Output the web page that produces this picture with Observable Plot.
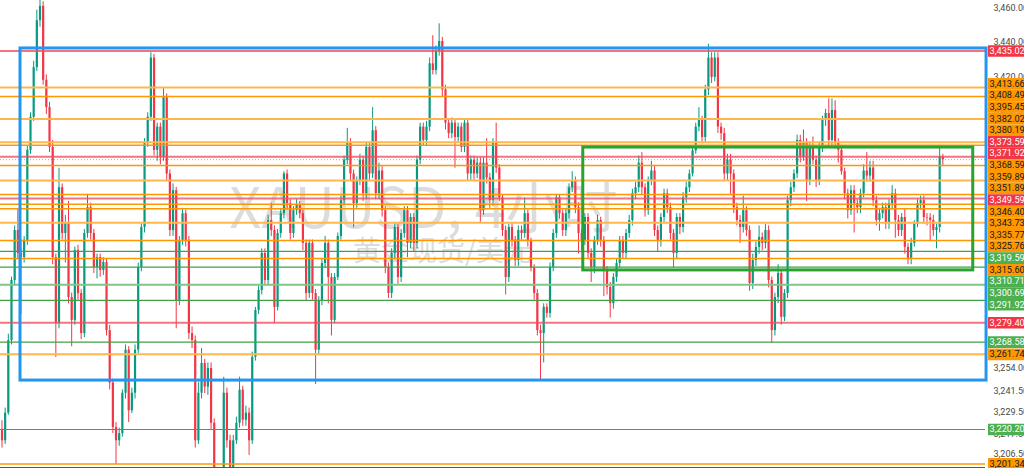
<!DOCTYPE html>
<html><head><meta charset="utf-8">
<script src="https://cdn.jsdelivr.net/npm/d3@7"></script>
<script src="https://cdn.jsdelivr.net/npm/@observablehq/plot@0.6"></script>
<style>
html,body{margin:0;padding:0;background:#fff;overflow:hidden;}
#chart{width:1024px;height:468px;overflow:hidden;}
</style></head><body><div id="chart"></div>
<script>
// ---- data (XAUUSD 4h candles) ----
const firstOpen = 3219.6;
const close = [
3214.0,3229.2,3269.4,3303.1,3331.4,3318.4,3316.1,
3325.8,3377.3,3396.4,3425.3,3452.8,3461.3,3417.9,3402.0,3379.0,3316.1,
3279.0,3355.8,3329.7,3335.4,3293.5,3280.7,3320.1,3295.8,3273.3,3329.7,
3344.4,3329.7,3310.5,3316.1,3308.8,3313.3,3275.0,3245.8,3221.3,3214.0,
3217.9,3240.2,3264.1,3230.5,3240.2,3264.1,3310.5,3333.1,3381.3,3396.4,
3430.9,3377.3,3390.7,3373.3,3407.7,3363.7,3331.4,3354.1,3291.8,3325.8,
3341.0,3325.8,3273.3,3269.4,3214.0,3240.2,3256.7,3243.6,3253.9,3223.6,
3194.4,3186.0,3197.3,3240.2,3214.0,3199.0,3214.0,3223.6,3241.9,
3225.3,3229.2,3214.0,3260.1,3286.3,3297.5,3318.4,3303.1,3337.1,3331.4,
3288.0,3329.7,3341.0,3363.7,3346.7,3329.7,3342.7,3345.6,3341.0,3324.1,
3295.8,3324.1,3295.8,3264.1,3291.8,3312.7,3324.1,3304.8,
3280.7,3304.8,3328.0,3348.4,3371.6,3381.3,3363.7,3346.7,3359.7,3371.6,3352.4,
3379.0,3363.7,3388.6,3352.4,3365.4,3342.7,3310.5,3295.8,3318.4,3333.1,
3304.8,3329.7,3342.7,3324.1,3338.8,3324.1,3371.6,3390.7,3383.0,3390.7,
3427.5,3423.6,3434.9,3440.6,3412.3,3393.0,3386.9,3393.0,3384.7,3390.7,
3379.0,3393.0,3363.7,3371.6,3363.7,3369.9,3342.7,3369.9,3361.4,3348.4,
3381.3,3367.1,3350.0,3331.4,3304.8,3333.1,3325.8,3314.4,3331.4,3329.7,3341.0,
3325.8,3310.0,3295.8,3275.0,3273.3,3288.0,3284.6,3310.5,3329.7,3350.1,3341.0,
3331.4,3341.0,3355.8,3359.7,3344.4,3329.7,3325.8,3338.8,3318.4,3310.5,
3325.8,3337.1,3325.8,3308.8,3299.2,3290.1,3304.8,3312.7,3325.8,3318.4,
3329.7,3337.1,3352.4,3355.8,3369.9,3355.8,3342.7,3359.7,3365.4,3331.4,
3325.8,3338.8,3352.4,3344.4,3329.7,3318.4,3338.8,3333.1,3350.1,3355.8,
3363.7,3377.0,3390.7,3394.7,3384.7,3412.3,3430.9,3419.6,3430.9,3390.7,3386.9,
3363.7,3371.6,3363.7,3344.4,3337.1,3333.1,3342.7,3331.4,3301.4,3314.4,
3321.8,3327.5,3324.1,3331.4,3303.1,3275.0,3293.5,3307.1,3282.4,3295.8,
3348.4,3355.8,3363.7,3383.0,3373.3,3381.3,3359.7,3379.0,3371.6,3359.7,
3379.0,3394.7,3398.6,3383.0,3400.3,3381.3,3377.3,3365.0,3352.4,3342.7,3354.1,
3346.7,3344.4,3352.4,3365.4,3362.5,3367.1,3348.4,3337.1,3341.0,3344.4,
3335.4,3346.7,3352.4,3337.1,3331.4,3338.8,3321.8,3315.6,3324.1,3335.0,3346.7,
3348.4,3338.8,3338.6,3337.1,3331.4,3333.1,3373.6,3371.9
];
const high = [
3225,3232,3273,3305,3334,3344,3326,
3328,3380,3399,3429,3459,3470,3464,3421,3405,3383,
3318,3367,3358,3340,3348,3296,3322,3323,3298,3332,
3352,3347,3332,3318,3318,3316,3315,3278,3248,3224,
3221,3242,3267,3266,3243,3267,3313,3335,3384,3399,
3434,3433,3393,3393,3413,3410,3366,3358,3356,3328,
3344,3343,3328,3277,3272,3246,3265,3259,3257,3257,
3226,3197,3199,3249,3243,3217,3217,3227,3249,
3244,3233,3232,3263,3288,3300,3321,3321,3340,3347,
3334,3332,3344,3365,3366,3349,3345,3349,3348,3343,
3326,3326,3326,3298,3294,3315,3328,3326,
3307,3307,3330,3351,3374,3390,3384,3366,3362,3375,3374,
3382,3382,3402,3391,3370,3368,3345,3313,3321,3336,
3335,3332,3345,3345,3341,3341,3374,3393,3393,3394,
3431,3444,3438,3451,3443,3415,3395,3396,3395,3393,
3393,3395,3395,3374,3374,3373,3373,3373,3384,3364,
3384,3393,3369,3352,3334,3335,3336,3328,3334,3334,3350,
3343,3327,3312,3298,3278,3290,3290,3313,3332,3352,3352,
3343,3344,3358,3365,3362,3347,3332,3341,3341,3321,
3328,3340,3339,3328,3311,3302,3307,3315,3328,3328,
3332,3340,3355,3359,3374,3376,3358,3362,3371,3368,
3334,3341,3355,3355,3347,3332,3341,3341,3353,3359,
3366,3379,3393,3402,3397,3415,3439,3434,3434,3434,3393,
3390,3375,3375,3366,3347,3340,3351,3345,3334,3318,
3325,3334,3330,3335,3334,3305,3296,3312,3309,3298,
3351,3359,3366,3386,3386,3389,3384,3382,3385,3374,
3382,3397,3401,3407,3407,3406,3384,3379,3367,3355,3357,
3357,3349,3355,3369,3376,3371,3371,3351,3344,3347,
3347,3349,3357,3355,3340,3341,3344,3324,3327,3337,3349,
3351,3351,3341,3341,3340,3335,3379,3375
];
const low = [
3210,3212,3228,3267,3300,3315,3284,
3313,3323,3375,3394,3423,3449,3415,3398,3376,3312,
3260,3276,3326,3313,3290,3266,3278,3292,3270,3271,
3327,3326,3307,3304,3305,3306,3272,3242,3218,3201,
3211,3216,3237,3224,3229,3237,3262,3308,3330,3379,
3394,3374,3371,3369,3371,3360,3328,3328,3276,3289,
3323,3322,3270,3265,3210,3212,3237,3240,3239,3220,
3190,3180,3185,3195,3210,3195,3197,3212,3221,
3222,3222,3206,3212,3258,3284,3295,3300,3300,3328,
3279,3286,3327,3338,3343,3326,3327,3340,3338,3320,
3292,3293,3292,3245,3261,3289,3310,3290,
3272,3279,3303,3326,3346,3369,3360,3333,3344,3357,3348,
3349,3360,3361,3349,3349,3339,3307,3293,3293,3315,
3301,3302,3327,3316,3321,3319,3321,3369,3380,3380,
3388,3421,3421,3432,3408,3389,3384,3384,3367,3382,
3376,3376,3360,3360,3360,3361,3336,3340,3358,3344,
3345,3364,3348,3328,3295,3302,3322,3311,3311,3326,3327,
3322,3308,3292,3272,3247,3257,3282,3282,3308,3327,3338,
3328,3328,3338,3353,3341,3318,3320,3323,3315,3302,
3307,3323,3322,3294,3295,3282,3287,3302,3310,3315,
3315,3327,3334,3349,3353,3352,3339,3340,3357,3328,
3319,3322,3336,3341,3326,3310,3315,3329,3330,3347,
3353,3362,3375,3388,3381,3382,3409,3416,3417,3387,3383,
3360,3360,3352,3341,3334,3324,3330,3328,3297,3298,
3311,3318,3320,3321,3299,3268,3272,3290,3278,3280,
3293,3345,3353,3361,3370,3371,3348,3357,3369,3356,
3357,3376,3391,3380,3380,3378,3370,3363,3349,3338,3340,
3330,3341,3341,3350,3359,3359,3345,3334,3331,3338,
3332,3332,3343,3327,3328,3328,3318,3312,3312,3322,3333,
3343,3335,3334,3325,3328,3321,3330,3368
];

// horizontal price levels drawn on the chart
const levelPrice = [3435.02,3413.66,3408.49,3395.45,3382.02,3380.19,3373.59,3368.59,3359.89,3351.89,3349.59,3346.40,3343.73,3335.77,3325.76,3319.59,3315.60,3310.71,3300.69,3291.92,3279.40,3268.58,3261.74,3220.20,3201.34];
const levelKind  = ["red","orangeL","orange","orangeL","orangeL","orange","red","orange","orangeL","orange","red","orange","orange","orangeL","orange","green","orange","green","greenL","green","red","green","orangeL","green","orange"];
const extraLinePrice = [3199.3];       // purple line at the bottom edge (no label)
const lastPrice = 3371.92;             // current price (dotted line)

// rectangles (candle index / price)
const boxX1 = [5.84, 183.5];
const boxX2 = [310.8, 306.6];
const boxTop = [3436.5, 3378.9];
const boxBottom = [3247.2, 3308.8];
const boxKind = ["blue", "green"];

// price-axis tick labels that show
const yTicks = [3460, 3440, 3420, 3400, 3254, 3241.5, 3229.5, 3217.5, 3206.5];

const watermark = "XAUUSD, 4小时";
const watermarkSub = "黄金现货/美元";

// ---- build ----
const W = 1024, H = 468, MR = 39;
const yDomain = [3198.84, 3464.74];
const xDomain = [-0.47, 310.47];
const UP = "#089981", DOWN = "#f23645";

const n = Math.min(close.length, high.length, low.length);
const candles = close.slice(0, n).map((c, i) => {
  const o = i === 0 ? firstOpen : close[i - 1];
  return {i, o, c, h: Math.max(high[i], o, c), l: Math.min(low[i], o, c), col: c >= o ? UP : DOWN};
});

const lineStyle = {
  red:     {stroke: "#f0505e", w: 2,   op: 0.8},
  orange:  {stroke: "#ff9800", w: 1.5, op: 1},
  orangeL: {stroke: "#ffb74d", w: 2,   op: 1},
  green:   {stroke: "#43a047", w: 1.2, op: 1},
  greenL:  {stroke: "#81c784", w: 2,   op: 1}
};
const labelStyle = {
  red:    {bg: "#f23645", fg: "#ffffff"},
  orange: {bg: "#ff9800", fg: "#131722"},
  green:  {bg: "#4caf50", fg: "#ffffff"}
};
const baseKind = k => k.startsWith("orange") ? "orange" : k.startsWith("green") ? "green" : "red";
const levels = levelPrice.map((p, i) => ({p, kind: levelKind[i]}));

// price labels on the axis, spread apart so they don't overlap
const ys = d3.scaleLog().domain(yDomain).range([H, 0]);
const LH = 11.63;
let items = [...levels.map(d => ({p: d.p, kind: baseKind(d.kind)})), {p: lastPrice, kind: "red"}]
  .map(d => ({...d, py: ys(d.p)})).sort((a, b) => a.py - b.py);
let clusters = items.map(d => ({m: [d], c: d.py}));
let merged = true;
while (merged) {
  merged = false;
  for (let k = 0; k < clusters.length - 1; k++) {
    const a = clusters[k], b = clusters[k + 1];
    if (a.c + a.m.length * LH / 2 > b.c - b.m.length * LH / 2) {
      const m = a.m.concat(b.m);
      clusters.splice(k, 2, {m, c: d3.mean(m, d => d.py)});
      merged = true; break;
    }
  }
}
const labels = [];
clusters.forEach(cl => {
  const top = cl.c - cl.m.length * LH / 2;
  cl.m.forEach((d, j) => labels.push({...d, ly: ys.invert(top + (j + 0.5) * LH),
    bg: labelStyle[d.kind].bg, fg: labelStyle[d.kind].fg,
    text: d3.format(",.2f")(d.p)}));
});

const boxes = boxX1.map((x1, i) => ({x1, x2: boxX2[i], y1: boxTop[i], y2: boxBottom[i], kind: boxKind[i]}));
const boxColor = {blue: "#2196f3", green: "#28a32e"};

const marks = [
  Plot.text([watermark], {frameAnchor: "top-left", dx: 423, dy: 210, text: d => d, textAnchor: "middle", lineAnchor: "middle",
    fontSize: 56, fill: "#dcdcdc", fontFamily: "'Noto Sans CJK SC', sans-serif"}),
  Plot.text([watermarkSub], {frameAnchor: "top-left", dx: 442, dy: 252, text: d => d, textAnchor: "middle", lineAnchor: "middle",
    fontSize: 28, fill: "#dcdcdc", fontFamily: "'Noto Sans CJK SC', sans-serif"}),
  Plot.ruleX(candles, {x: "i", y1: "l", y2: "h", stroke: "col", strokeWidth: 1, clip: true}),
  Plot.ruleX(candles, {x: "i", y1: "o", y2: "c", stroke: "col", strokeWidth: 2.2, clip: true}),
];
for (const k of Object.keys(lineStyle)) {
  const s = lineStyle[k];
  marks.push(Plot.ruleY(levels.filter(d => d.kind === k), {y: "p", stroke: s.stroke, strokeWidth: s.w, strokeOpacity: s.op}));
}
marks.push(Plot.ruleY(extraLinePrice, {stroke: "#673ab7", strokeWidth: 1.5}));
marks.push(Plot.ruleY([lastPrice], {stroke: "#f23645", strokeOpacity: 0.6, strokeWidth: 1, strokeDasharray: "1,2"}));
for (const k of Object.keys(boxColor)) {
  marks.push(Plot.rect(boxes.filter(d => d.kind === k), {x1: "x1", x2: "x2", y1: "y1", y2: "y2", fill: "none", stroke: boxColor[k], strokeWidth: 3}));
}
marks.push(Plot.axisY(yTicks, {anchor: "right", tickSize: 0, tickPadding: 8, tickFormat: d3.format(",.2f"), fontSize: 9, color: "#4a4a4a"}));
marks.push(Plot.ruleY(labels, {y: "ly", stroke: "bg", strokeWidth: LH, dx: 988}));
marks.push(Plot.text(labels, {y: "ly", text: "text", fill: "fg", frameAnchor: "right", dx: 4, textAnchor: "start", fontSize: 9.2}));

const chart = Plot.plot({
  width: W, height: H,
  marginLeft: 0, marginRight: MR, marginTop: 0, marginBottom: 0,
  x: {domain: xDomain, axis: null},
  y: {type: "log", domain: yDomain},
  color: {type: "identity"},
  style: {fontFamily: "Roboto, 'Noto Sans CJK SC', sans-serif", fontSize: "10px", background: "#ffffff"},
  marks
});
document.getElementById("chart").appendChild(chart);
</script>
</body></html>
